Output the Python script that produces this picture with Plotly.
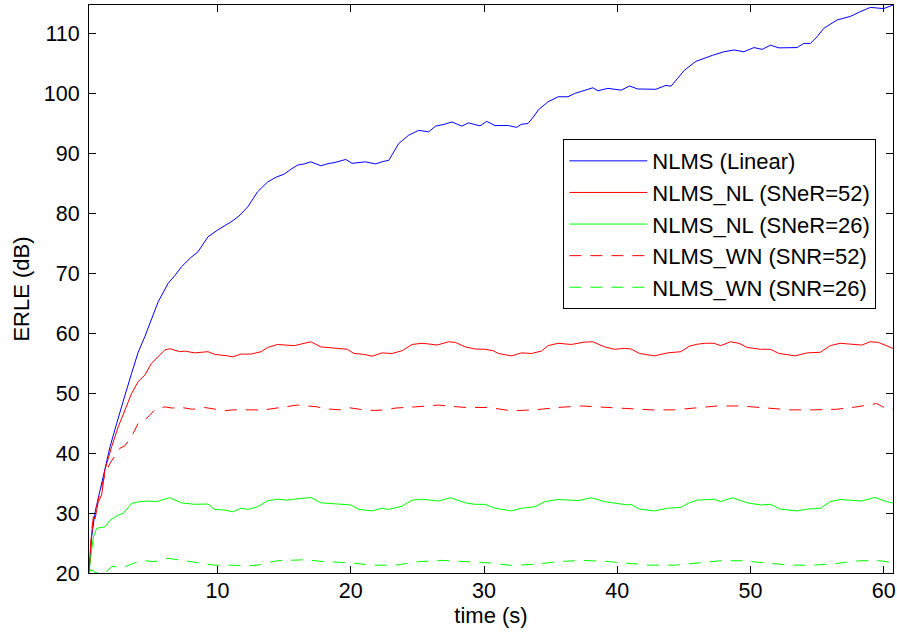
import plotly.graph_objects as go

# ---------------- data ----------------
t_lin = [0.35, 0.55, 0.81, 1.1, 1.43, 1.93, 2.43, 2.8, 3.1, 3.55, 4.04, 4.54, 5.04, 5.54, 6.29, 6.8,
         7.29, 8.0, 8.53, 9.28, 10.02, 11.02, 11.6, 12.27, 13.0, 13.76, 14.4, 15.0, 15.5, 16.0, 16.5,
         17.0, 17.75, 18.37, 18.74, 19.62, 20.1, 21.1, 21.86, 22.4, 22.85, 23.2, 23.6, 24.35, 25.1,
         25.85, 26.35, 27.0, 27.6, 28.33, 28.83, 29.7, 30.2, 30.83, 31.83, 32.45, 32.8, 33.3, 33.7,
         34.07, 34.8, 35.56, 36.3, 36.8, 37.55, 38.17, 38.55, 39.3, 40.3, 40.92, 41.54, 42.9, 43.66,
         44.03, 44.53, 45.03, 45.9, 46.5, 47.14, 48.0, 48.77, 49.5, 50.26, 50.88, 51.5, 52.13, 53.5,
         54.0, 54.5, 55.0, 55.5, 56.5, 57.5, 58.2, 59.0, 60.0, 60.7]
erle_lin = [20.0, 26.0, 30.2, 33.0, 36.05, 41.05, 44.95, 48.0, 50.0, 53.3, 56.8, 59.4, 62.3, 65.2, 68.3, 69.6,
            71.05, 72.6, 73.55, 76.05, 77.2, 78.55, 79.5, 81.05, 83.55, 85.2, 86.0, 86.5, 87.3, 88.0, 88.2,
            88.55, 87.9, 88.3, 88.4, 88.95, 88.3, 88.55, 88.2, 88.6, 88.8, 90.0, 91.6, 93.0, 93.8,
            93.55, 94.5, 94.8, 95.2, 94.5, 95.05, 94.55, 95.3, 94.6, 94.6, 94.3, 94.8, 94.95, 96.0,
            97.2, 98.55, 99.4, 99.4, 99.95, 100.5, 100.9, 100.4, 100.8, 100.5, 101.2, 100.7, 100.65, 101.3,
            101.15, 102.45, 103.8, 105.3, 105.8, 106.3, 106.9, 107.2, 106.9, 107.6, 107.3, 108.0, 107.55, 107.6,
            108.3, 108.3, 109.4, 110.8, 112.2, 112.8, 113.55, 114.3, 114.1, 114.7]

t_nl52 = [0.36, 0.5, 0.68, 0.8, 1.05, 1.3, 1.55, 2.05, 2.55, 3.05, 3.55, 4.04, 4.54, 5.04, 5.54, 6.04,
          6.41, 7.16, 7.53, 8.28, 9.28, 9.78, 10.77, 11.14, 11.77, 12.52, 13.27, 13.76, 14.5, 15.25,
          15.76, 17.0, 17.75, 18.99, 19.74, 20.24, 20.98, 21.6, 22.35, 23.1, 23.85, 24.6, 25.34, 25.97,
          26.47, 27.34, 27.84, 28.59, 29.33, 30.08, 30.7, 31.08, 32.07, 32.82, 33.57, 34.31, 34.81,
          35.56, 36.55, 37.06, 37.55, 38.17, 39.05, 39.8, 40.55, 41.04, 41.67, 42.79, 43.78, 44.78,
          45.4, 46.02, 46.64, 47.27, 47.76, 48.51, 49.14, 49.76, 50.75, 51.5, 52.13, 53.37, 54.25,
          55.24, 55.99, 56.73, 57.73, 58.36, 58.98, 59.6, 60.7]
erle_nl52 = [20.5, 25.5, 29.4, 29.0, 31.9, 33.0, 37.2, 41.05, 44.4, 47.2, 49.95, 51.9, 53.0, 54.95, 56.05, 57.2,
             57.4, 56.9, 57.0, 56.7, 56.9, 56.45, 56.2, 56.05, 56.5, 56.5, 56.9, 57.6, 58.1, 58.0,
             57.9, 58.55, 57.7, 57.45, 57.3, 56.6, 56.45, 56.15, 56.7, 56.6, 57.05, 58.1, 58.3, 58.15,
             58.0, 58.55, 58.45, 57.7, 57.35, 57.3, 57.05, 56.6, 56.2, 56.7, 56.6, 57.0, 57.9,
             58.3, 58.1, 58.3, 58.5, 58.55, 57.7, 57.3, 57.45, 57.35, 56.6, 56.2, 56.7, 56.9,
             57.8, 58.15, 58.3, 58.3, 57.9, 58.55, 58.3, 57.6, 57.3, 57.3, 56.6, 56.2, 56.7,
             56.8, 57.9, 58.3, 58.1, 58.0, 58.55, 58.45, 57.45]

t_nl26 = [0.36, 0.68, 0.93, 1.55, 1.93, 2.55, 2.92, 3.55, 4.17, 4.79, 5.42, 6.41, 7.29, 8.28, 9.28, 9.78,
          10.52, 11.14, 11.77, 12.27, 13.01, 13.76, 14.5, 15.25, 15.76, 17.0, 17.75, 18.99, 19.99, 20.61,
          21.6, 22.35, 22.85, 23.85, 24.6, 25.34, 25.97, 26.6, 27.47, 28.09, 28.59, 29.33, 30.08, 30.83,
          32.07, 32.82, 33.82, 34.57, 35.56, 36.55, 37.06, 38.05, 39.05, 39.8, 40.79, 41.04, 41.67, 42.79,
          43.78, 44.78, 45.4, 46.02, 46.64, 47.27, 47.76, 48.64, 49.76, 50.75, 51.5, 52.25, 53.5, 54.25,
          55.24, 55.99, 56.73, 57.73, 58.36, 59.35, 60.22, 60.72]
erle_nl26 = [20.5, 26.05, 27.45, 27.7, 28.8, 29.65, 29.95, 31.6, 31.9, 32.0, 31.9, 32.55, 31.7, 31.45, 31.5, 30.6,
             30.5, 30.2, 30.8, 30.6, 31.05, 32.05, 32.3, 32.15, 32.3, 32.6, 31.7, 31.45, 31.35, 30.6,
             30.35, 30.8, 30.6, 31.15, 32.15, 32.3, 32.15, 32.0, 32.55, 32.15, 31.7, 31.45, 31.45, 30.8,
             30.35, 30.8, 31.05, 31.9, 32.25, 32.15, 32.05, 32.55, 31.9, 31.65, 31.35, 31.45, 30.65, 30.35,
             30.8, 30.95, 31.7, 32.15, 32.25, 32.3, 31.9, 32.55, 31.7, 31.35, 31.45, 30.65, 30.35, 30.65,
             30.8, 31.9, 32.25, 32.15, 32.0, 32.6, 31.9, 31.65]

t_wn52 = [0.36, 0.6, 0.9, 1.2, 1.55, 1.93, 2.3, 2.68, 3.05, 3.4, 3.67, 4.04, 4.54, 4.9, 5.29, 6.04, 6.6,
          7.29, 8.1, 9.03, 9.8, 10.52, 11.14, 12.52, 13.5, 14.76, 16.0, 17.5, 18.0, 19.24, 19.74, 20.98,
          21.8, 22.6, 23.35, 24.85, 26.6, 27.5, 28.59, 30.3, 32.07, 33.82, 35.56, 37.3, 39.05, 40.55,
          42.54, 44.28, 46.02, 47.52, 49.26, 51.0, 52.99, 54.74, 56.48, 57.97, 59.47, 60.1, 60.7]
erle_wn52 = [20.5, 28.0, 31.0, 33.5, 36.5, 38.3, 39.5, 40.8, 41.2, 42.5, 43.3, 44.95, 45.5, 46.3, 47.2, 47.7, 47.5,
             47.6, 47.3, 47.6, 47.3, 47.05, 47.2, 47.2, 47.2, 47.6, 48.0, 47.7, 47.4, 47.2, 47.6, 47.2,
             47.1, 47.2, 47.5, 47.7, 48.0, 47.8, 47.6, 47.6, 47.05, 47.2, 47.6, 47.85, 47.6, 47.4,
             47.2, 47.2, 47.5, 47.85, 47.85, 47.5, 47.2, 47.2, 47.3, 47.7, 48.25, 47.5, 47.3]

t_wn26 = [0.36, 0.5, 0.8, 1.2, 1.55, 2.05, 3.05, 3.8, 4.54, 5.29, 6.29, 7.53, 8.53, 9.78, 11.02, 12.0, 13.0,
          14.5, 16.5, 18.0, 19.99, 21.6, 23.35, 25.1, 26.85, 28.59, 30.3, 32.07, 33.82, 35.56, 37.3,
          39.05, 40.55, 42.5, 44.3, 46.0, 47.8, 49.3, 51.0, 53.0, 54.7, 56.5, 58.2, 59.7, 60.7]
erle_wn26 = [20.0, 20.6, 20.1, 19.9, 20.05, 21.05, 21.05, 21.7, 22.05, 21.9, 22.45, 22.05, 21.7, 21.3, 21.3, 21.2, 21.3,
             22.05, 22.2, 21.9, 21.7, 21.3, 21.3, 21.9, 22.1, 21.9, 21.7, 21.25, 21.45, 21.9, 22.1,
             21.95, 21.7, 21.3, 21.3, 21.7, 22.05, 22.05, 21.7, 21.3, 21.3, 21.6, 22.05, 22.05, 21.7]

names = ["NLMS (Linear)", "NLMS_NL (SNeR=52)", "NLMS_NL (SNeR=26)",
         "NLMS_WN (SNR=52)", "NLMS_WN (SNR=26)"]
x_ticks = [10, 20, 30, 40, 50, 60]
y_ticks = [20, 30, 40, 50, 60, 70, 80, 90, 100, 110]

# ---------------- figure ----------------
FONT = "Liberation Sans, Arial, sans-serif"
series = [
    (t_lin, erle_lin, "#0000ff", "solid"),
    (t_nl52, erle_nl52, "#ff0000", "solid"),
    (t_nl26, erle_nl26, "#00ff00", "solid"),
    (t_wn52, erle_wn52, "#ff0000", "12px,9px"),
    (t_wn26, erle_wn26, "#00ff00", "12px,9px"),
]

fig = go.Figure()
for i, (tx, vy, col, dash) in enumerate(series):
    fig.add_trace(go.Scatter(x=tx, y=vy, mode="lines", name=names[i],
                             line=dict(color=col, width=1, dash=dash)))

axis_common = dict(showline=True, linecolor="black", linewidth=1, mirror="allticks",
                   ticks="inside", ticklen=7, tickwidth=1, tickcolor="black",
                   showgrid=False, zeroline=False, ticklabeloverflow="allow",
                   tickfont=dict(family=FONT, size=21.5, color="black"))

fig.update_layout(
    width=897, height=634,
    margin=dict(l=89, r=1, t=5, b=61),
    paper_bgcolor="white", plot_bgcolor="white",
    font=dict(family=FONT, size=22, color="black"),
    xaxis=dict(range=[0.35, 60.7], tickvals=x_ticks, ticktext=[str(v) for v in x_ticks],
               title=dict(text="time (s)", font=dict(family=FONT, size=22), standoff=0),
               ticklabelstandoff=-2, **axis_common),
    yaxis=dict(range=[20, 114.7], tickvals=y_ticks, ticktext=[str(v) for v in y_ticks],
               title=dict(text="ERLE (dB)", font=dict(family=FONT, size=22), standoff=8),
               ticklabelstandoff=4, **axis_common),
    legend=dict(x=0.59, y=0.764, xanchor="left", yanchor="top",
                bgcolor="white", bordercolor="black", borderwidth=1,
                font=dict(family=FONT, size=22, color="black"),
                itemwidth=78),
    showlegend=True,
)

fig.write_html("out.html")
